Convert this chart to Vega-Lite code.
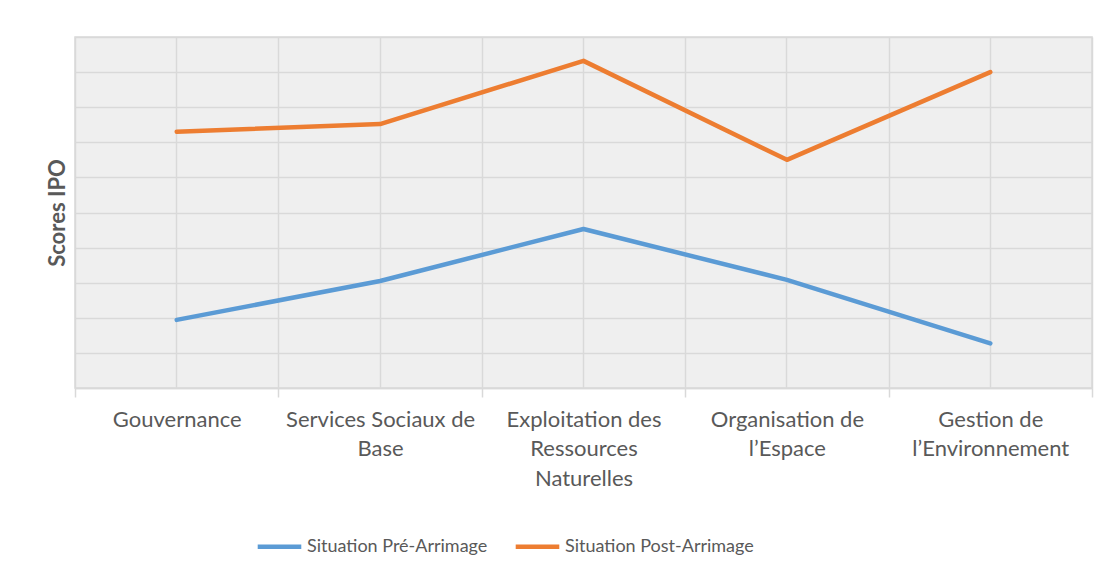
{
  "$schema": "https://vega.github.io/schema/vega-lite/v6.json",
  "width": 1017,
  "height": 351,
  "autosize": "none",
  "padding": {"left": 75, "top": 37, "right": 21, "bottom": 176},
  "background": "white",
  "config": {
    "font": "Lato",
    "view": {"stroke": "#d9d9d9", "strokeWidth": 1.5, "fill": "#efefef"}
  },
  "data": {
    "values": [
      {"Domaine": "Gouvernance", "Situation": "Situation Pré-Arrimage", "Score": 0.194},
      {"Domaine": "Services Sociaux de Base", "Situation": "Situation Pré-Arrimage", "Score": 0.305},
      {"Domaine": "Exploitation des Ressources Naturelles", "Situation": "Situation Pré-Arrimage", "Score": 0.453},
      {"Domaine": "Organisation de l’Espace", "Situation": "Situation Pré-Arrimage", "Score": 0.308},
      {"Domaine": "Gestion de l’Environnement", "Situation": "Situation Pré-Arrimage", "Score": 0.127},
      {"Domaine": "Gouvernance", "Situation": "Situation Post-Arrimage", "Score": 0.730},
      {"Domaine": "Services Sociaux de Base", "Situation": "Situation Post-Arrimage", "Score": 0.752},
      {"Domaine": "Exploitation des Ressources Naturelles", "Situation": "Situation Post-Arrimage", "Score": 0.932},
      {"Domaine": "Organisation de l’Espace", "Situation": "Situation Post-Arrimage", "Score": 0.650},
      {"Domaine": "Gestion de l’Environnement", "Situation": "Situation Post-Arrimage", "Score": 0.900}
    ]
  },
  "resolve": {"axis": {"x": "independent"}},
  "layer": [
    {
      "mark": {"type": "line", "strokeOpacity": 0},
      "encoding": {
        "x": {
          "field": "Domaine", "type": "nominal",
          "sort": ["Gouvernance", "Services Sociaux de Base", "Exploitation des Ressources Naturelles", "Organisation de l’Espace", "Gestion de l’Environnement"],
          "scale": {"type": "band", "paddingInner": 0, "paddingOuter": 0},
          "bandPosition": 0.5,
          "axis": {"orient": "top", "title": null, "labels": false, "ticks": false, "domain": false, "grid": true, "gridColor": "#d9d9d9", "gridWidth": 1.5}
        },
        "y": {
          "field": "Score", "type": "quantitative",
          "scale": {"domain": [0, 1], "nice": false, "zero": true},
          "axis": {
            "values": [0, 0.1, 0.2, 0.3, 0.4, 0.5, 0.6, 0.7, 0.8, 0.9, 1],
            "labels": false, "ticks": false, "domain": false,
            "grid": true, "gridColor": "#d9d9d9", "gridWidth": 1.5,
            "title": "Scores IPO", "titleFontSize": 22, "titleFontWeight": "bold", "titleColor": "#595959", "titlePadding": 6
          }
        },
        "detail": {"field": "Situation"}
      }
    },
    {
      "mark": {"type": "line", "strokeWidth": 4.5, "strokeCap": "round", "strokeJoin": "round"},
      "encoding": {
        "x": {
          "field": "Domaine", "type": "nominal",
          "sort": ["Gouvernance", "Services Sociaux de Base", "Exploitation des Ressources Naturelles", "Organisation de l’Espace", "Gestion de l’Environnement"],
          "scale": {"type": "band", "paddingInner": 0, "paddingOuter": 0},
          "bandPosition": 0.5,
          "axis": {
            "orient": "bottom", "title": null, "tickBand": "extent",
            "grid": true, "gridColor": "#d9d9d9", "gridWidth": 1.5,
            "domainColor": "#d9d9d9", "domainWidth": 1.5,
            "tickColor": "#d9d9d9", "tickWidth": 1.5, "tickSize": 9,
            "labelAngle": 0, "labelFontSize": 22, "labelColor": "#595959",
            "labelPadding": 12, "labelLineHeight": 29.5, "labelBaseline": "top", "labelLimit": 0,
            "labelExpr": "datum.value == 'Services Sociaux de Base' ? ['Services Sociaux de', 'Base'] : datum.value == 'Exploitation des Ressources Naturelles' ? ['Exploitation des', 'Ressources', 'Naturelles'] : datum.value == 'Organisation de l’Espace' ? ['Organisation de', 'l’Espace'] : datum.value == 'Gestion de l’Environnement' ? ['Gestion de', 'l’Environnement'] : datum.label"
          }
        },
        "y": {
          "field": "Score", "type": "quantitative",
          "scale": {"domain": [0, 1], "nice": false, "zero": true},
          "axis": {
            "values": [0, 0.1, 0.2, 0.3, 0.4, 0.5, 0.6, 0.7, 0.8, 0.9, 1],
            "labels": false, "ticks": false, "domain": false,
            "grid": true, "gridColor": "#d9d9d9", "gridWidth": 1.5,
            "title": "Scores IPO", "titleFontSize": 22, "titleFontWeight": "bold", "titleColor": "#595959", "titlePadding": 6
          }
        },
        "color": {
          "field": "Situation", "type": "nominal",
          "sort": ["Situation Pré-Arrimage", "Situation Post-Arrimage"],
          "scale": {"domain": ["Situation Pré-Arrimage", "Situation Post-Arrimage"], "range": ["#5B9BD5", "#ED7D31"]},
          "legend": {
            "orient": "none", "legendX": 180, "legendY": 485, "direction": "horizontal",
            "title": null, "symbolType": "stroke", "symbolSize": 1900, "symbolStrokeWidth": 4.5,
            "labelFontSize": 18, "labelColor": "#595959", "labelOffset": 3, "labelLimit": 0, "columnPadding": 18
          }
        }
      }
    }
  ]
}
